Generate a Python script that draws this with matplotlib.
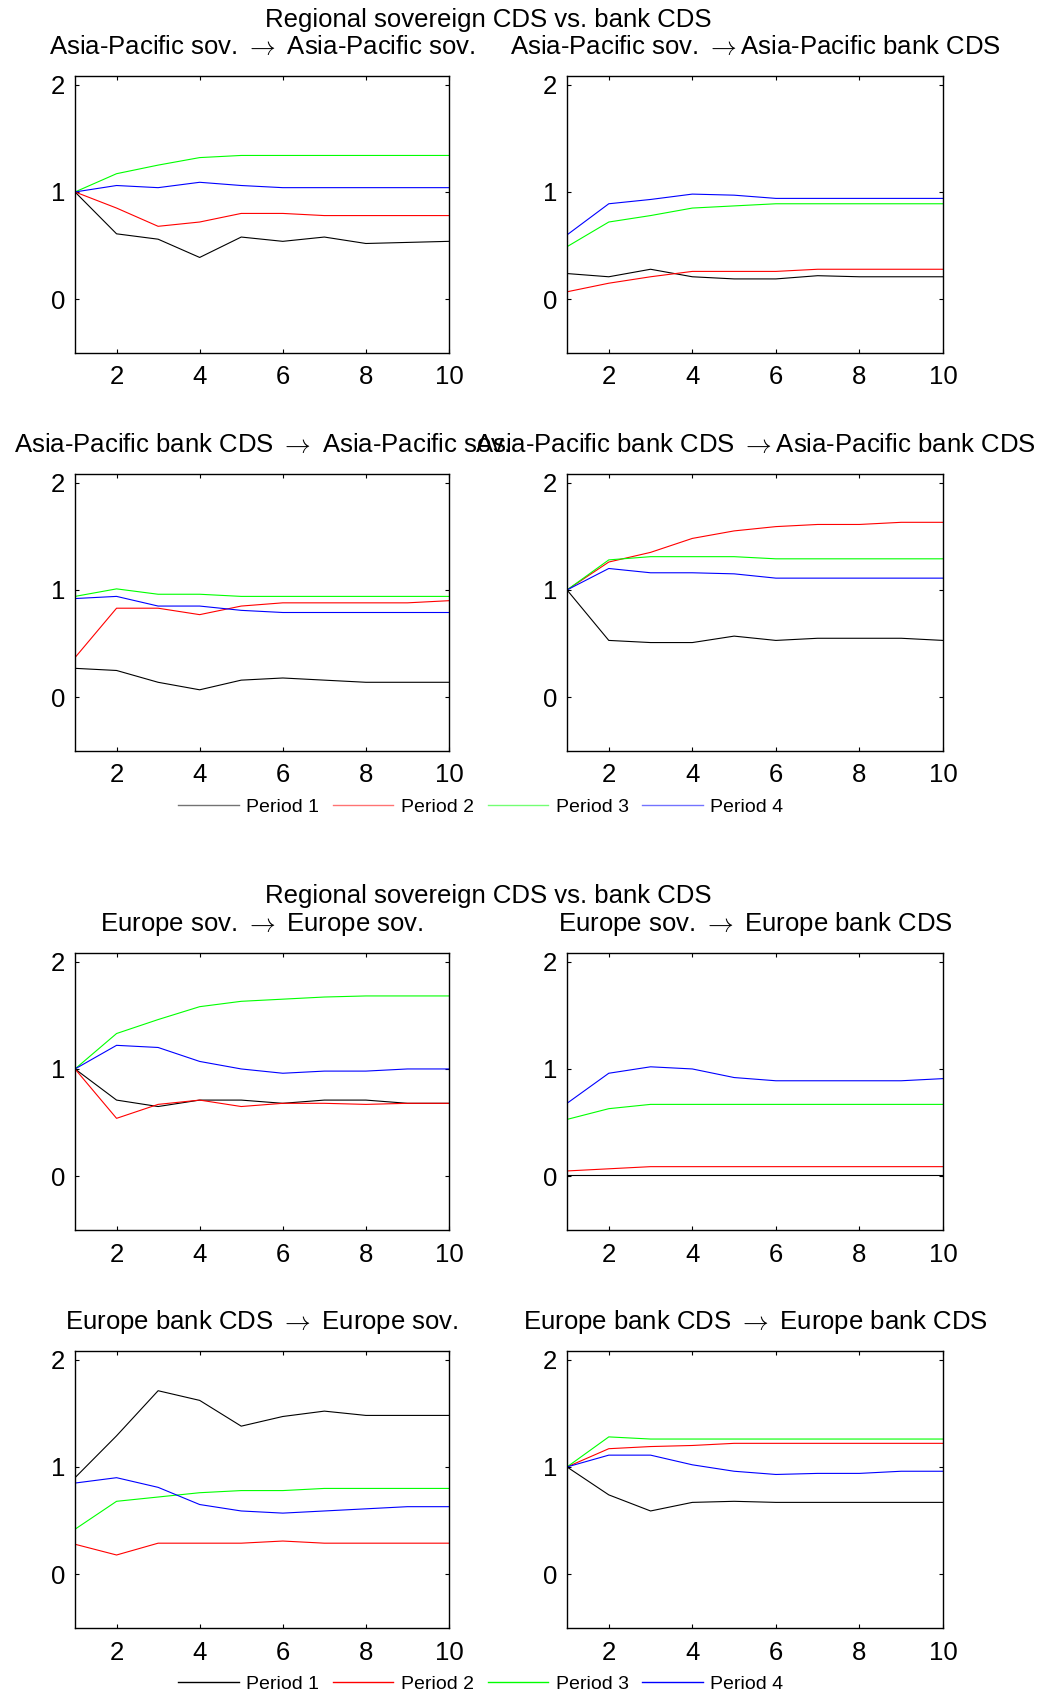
import matplotlib
matplotlib.use('Agg')
import matplotlib.pyplot as plt
from matplotlib.lines import Line2D

plt.rcParams['font.family'] = ['Liberation Sans', 'DejaVu Sans']
plt.rcParams['mathtext.fontset'] = 'cm'

horizon = [1, 2, 3, 4, 5, 6, 7, 8, 9, 10]
periods = ['Period 1', 'Period 2', 'Period 3', 'Period 4']
colors = ['black', 'red', 'lime', 'blue']

# Asia-Pacific block, rows = Period 1..4
ap_sov_sov = [
    [1, 0.61, 0.56, 0.39, 0.58, 0.54, 0.58, 0.52, 0.53, 0.54],
    [1, 0.85, 0.68, 0.72, 0.80, 0.80, 0.78, 0.78, 0.78, 0.78],
    [1, 1.17, 1.25, 1.32, 1.34, 1.34, 1.34, 1.34, 1.34, 1.34],
    [1, 1.06, 1.04, 1.09, 1.06, 1.04, 1.04, 1.04, 1.04, 1.04],
]
ap_sov_bank = [
    [0.24, 0.21, 0.28, 0.21, 0.19, 0.19, 0.22, 0.21, 0.21, 0.21],
    [0.07, 0.15, 0.21, 0.26, 0.26, 0.26, 0.28, 0.28, 0.28, 0.28],
    [0.49, 0.72, 0.78, 0.85, 0.87, 0.89, 0.89, 0.89, 0.89, 0.89],
    [0.60, 0.89, 0.93, 0.98, 0.97, 0.94, 0.94, 0.94, 0.94, 0.94],
]
ap_bank_sov = [
    [0.27, 0.25, 0.14, 0.07, 0.16, 0.18, 0.16, 0.14, 0.14, 0.14],
    [0.37, 0.83, 0.83, 0.77, 0.85, 0.88, 0.88, 0.88, 0.88, 0.90],
    [0.94, 1.01, 0.96, 0.96, 0.94, 0.94, 0.94, 0.94, 0.94, 0.94],
    [0.92, 0.94, 0.85, 0.85, 0.81, 0.79, 0.79, 0.79, 0.79, 0.79],
]
ap_bank_bank = [
    [1, 0.53, 0.51, 0.51, 0.57, 0.53, 0.55, 0.55, 0.55, 0.53],
    [1, 1.26, 1.35, 1.48, 1.55, 1.59, 1.61, 1.61, 1.63, 1.63],
    [1, 1.28, 1.31, 1.31, 1.31, 1.29, 1.29, 1.29, 1.29, 1.29],
    [1, 1.20, 1.16, 1.16, 1.15, 1.11, 1.11, 1.11, 1.11, 1.11],
]

# Europe block
eu_sov_sov = [
    [1, 0.71, 0.65, 0.71, 0.71, 0.68, 0.71, 0.71, 0.68, 0.68],
    [1, 0.54, 0.67, 0.71, 0.65, 0.68, 0.68, 0.67, 0.68, 0.68],
    [1, 1.33, 1.46, 1.58, 1.63, 1.65, 1.67, 1.68, 1.68, 1.68],
    [1, 1.22, 1.20, 1.07, 1.00, 0.96, 0.98, 0.98, 1.00, 1.00],
]
eu_sov_bank = [
    [0.01, 0.01, 0.01, 0.01, 0.01, 0.01, 0.01, 0.01, 0.01, 0.01],
    [0.05, 0.07, 0.09, 0.09, 0.09, 0.09, 0.09, 0.09, 0.09, 0.09],
    [0.53, 0.63, 0.67, 0.67, 0.67, 0.67, 0.67, 0.67, 0.67, 0.67],
    [0.68, 0.96, 1.02, 1.00, 0.92, 0.89, 0.89, 0.89, 0.89, 0.91],
]
eu_bank_sov = [
    [0.90, 1.29, 1.71, 1.62, 1.38, 1.47, 1.52, 1.48, 1.48, 1.48],
    [0.28, 0.18, 0.29, 0.29, 0.29, 0.31, 0.29, 0.29, 0.29, 0.29],
    [0.42, 0.68, 0.72, 0.76, 0.78, 0.78, 0.80, 0.80, 0.80, 0.80],
    [0.85, 0.90, 0.81, 0.65, 0.59, 0.57, 0.59, 0.61, 0.63, 0.63],
]
eu_bank_bank = [
    [1, 0.74, 0.59, 0.67, 0.68, 0.67, 0.67, 0.67, 0.67, 0.67],
    [1, 1.17, 1.19, 1.20, 1.22, 1.22, 1.22, 1.22, 1.22, 1.22],
    [1, 1.28, 1.26, 1.26, 1.26, 1.26, 1.26, 1.26, 1.26, 1.26],
    [1, 1.11, 1.11, 1.02, 0.96, 0.93, 0.94, 0.94, 0.96, 0.96],
]

panels = [
    (ap_sov_sov, 'Asia-Pacific sov. $\\rightarrow$ Asia-Pacific sov.'),
    (ap_sov_bank, 'Asia-Pacific sov. $\\rightarrow$Asia-Pacific bank CDS'),
    (ap_bank_sov, 'Asia-Pacific bank CDS $\\rightarrow$ Asia-Pacific sov.'),
    (ap_bank_bank, 'Asia-Pacific bank CDS $\\rightarrow$Asia-Pacific bank CDS'),
    (eu_sov_sov, 'Europe sov. $\\rightarrow$ Europe sov.'),
    (eu_sov_bank, 'Europe sov. $\\rightarrow$ Europe bank CDS'),
    (eu_bank_sov, 'Europe bank CDS $\\rightarrow$ Europe sov.'),
    (eu_bank_bank, 'Europe bank CDS $\\rightarrow$ Europe bank CDS'),
]

W, H = 1042, 1697
fig = plt.figure(figsize=(W / 100, H / 100), dpi=100)

col_left = [75, 567]
col_w = [374, 376]
row_top = [76, 474, 953, 1351]
row_h = 277

for i, (vals, title) in enumerate(panels):
    r, c = i // 2, i % 2
    ax = fig.add_axes([col_left[c] / W, 1 - (row_top[r] + row_h) / H,
                       col_w[c] / W, row_h / H])
    for series, col in zip(vals, colors):
        ax.plot(horizon, series, color=col, lw=0.8)
    ax.set_xlim(1, 10)
    ax.set_ylim(-0.5, 2.08)
    ax.set_xticks([2, 4, 6, 8, 10])
    ax.set_yticks([0, 1, 2])
    ax.tick_params(direction='in', top=True, right=True, length=3,
                   width=0.8, labelsize=18.5)
    ax.tick_params(axis='y', pad=7)
    ax.tick_params(axis='x', pad=9)
    for s in ax.spines.values():
        s.set_linewidth(1.0)
    ax.set_title(title, fontsize=18.5, pad=16)

fig.text(488 / W, 1 - 27 / H, 'Regional sovereign CDS vs. bank CDS',
         ha='center', va='baseline', fontsize=18.5)
fig.text(488 / W, 1 - 903 / H, 'Regional sovereign CDS vs. bank CDS',
         ha='center', va='baseline', fontsize=18.5)

for y, alpha in [(807, 0.55), (1684, 1.0)]:
    handles = [Line2D([], [], color=c, lw=1.0, alpha=alpha) for c in colors]
    fig.legend(handles, periods, loc='center', bbox_to_anchor=(481 / W, 1 - y / H),
               ncol=4, frameon=False, fontsize=14, handlelength=3.1,
               handletextpad=0.4, columnspacing=0.7)

plt.savefig('out.png', dpi=100)
